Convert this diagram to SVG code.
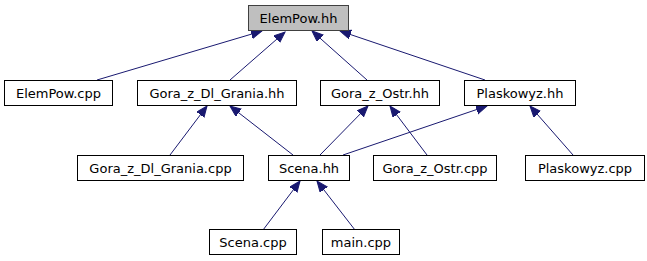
<svg xmlns="http://www.w3.org/2000/svg" width="647" height="261" viewBox="0 0 647 261">
  <style>
    .node rect { fill: #ffffff; stroke: #000000; stroke-width: 1; }
    .node.root rect { fill: #bfbfbf; stroke: #404040; }
    .node text { font-family: "DejaVu Sans", "Liberation Sans", sans-serif; font-size: 13px; text-anchor: middle; fill: #000000; }
    .edges line { stroke: #191970; stroke-width: 1; marker-end: url(#arrow); }
  </style>
  <defs>
    <marker id="arrow" markerUnits="userSpaceOnUse" markerWidth="12" markerHeight="10" refX="11" refY="4.5" orient="auto">
      <path d="M0,0 L11,4.5 L0,9 Z" fill="#191970" stroke="#191970" stroke-width="1"/>
    </marker>
  </defs>
  <rect width="647" height="261" fill="#ffffff"/>

  <g class="edges">
    <line x1="97" y1="80" x2="262" y2="31"/>
    <line x1="230" y1="80" x2="285" y2="32"/>
    <line x1="367" y1="80" x2="312" y2="31"/>
    <line x1="485" y1="80" x2="340" y2="31"/>
    <line x1="170" y1="155" x2="207" y2="106"/>
    <line x1="293" y1="155" x2="230" y2="106"/>
    <line x1="320" y1="155" x2="368" y2="106"/>
    <line x1="427" y1="155" x2="390" y2="106"/>
    <line x1="343" y1="155" x2="487" y2="106"/>
    <line x1="573" y1="155" x2="530" y2="106"/>
    <line x1="263" y1="230" x2="300" y2="181"/>
    <line x1="355" y1="230" x2="317" y2="181"/>
  </g>

  <g id="ElemPow_hh" class="node root">
    <rect x="248.5" y="5.5" width="100" height="25"/>
    <text x="298.5" y="22.5">ElemPow.hh</text>
  </g>
  <g id="ElemPow_cpp" class="node">
    <rect x="4.5" y="80.5" width="108" height="25"/>
    <text x="58.5" y="97.5">ElemPow.cpp</text>
  </g>
  <g id="Gora_z_Dl_Grania_hh" class="node">
    <rect x="137.5" y="80.5" width="159" height="25"/>
    <text x="217" y="97.5">Gora_z_Dl_Grania.hh</text>
  </g>
  <g id="Gora_z_Ostr_hh" class="node">
    <rect x="320.5" y="80.5" width="119" height="25"/>
    <text x="380" y="97.5">Gora_z_Ostr.hh</text>
  </g>
  <g id="Plaskowyz_hh" class="node">
    <rect x="464.5" y="80.5" width="111" height="25"/>
    <text x="520" y="97.5">Plaskowyz.hh</text>
  </g>
  <g id="Gora_z_Dl_Grania_cpp" class="node">
    <rect x="77.5" y="155.5" width="166" height="25"/>
    <text x="160.5" y="172.5">Gora_z_Dl_Grania.cpp</text>
  </g>
  <g id="Scena_hh" class="node">
    <rect x="268.5" y="155.5" width="81" height="25"/>
    <text x="309" y="172.5">Scena.hh</text>
  </g>
  <g id="Gora_z_Ostr_cpp" class="node">
    <rect x="373.5" y="155.5" width="123" height="25"/>
    <text x="435" y="172.5">Gora_z_Ostr.cpp</text>
  </g>
  <g id="Plaskowyz_cpp" class="node">
    <rect x="525.5" y="155.5" width="119" height="25"/>
    <text x="585" y="172.5">Plaskowyz.cpp</text>
  </g>
  <g id="Scena_cpp" class="node">
    <rect x="209.5" y="229.5" width="87" height="25"/>
    <text x="253" y="246.5">Scena.cpp</text>
  </g>
  <g id="main_cpp" class="node">
    <rect x="322.5" y="229.5" width="77" height="25"/>
    <text x="361" y="246.5">main.cpp</text>
  </g>
</svg>
